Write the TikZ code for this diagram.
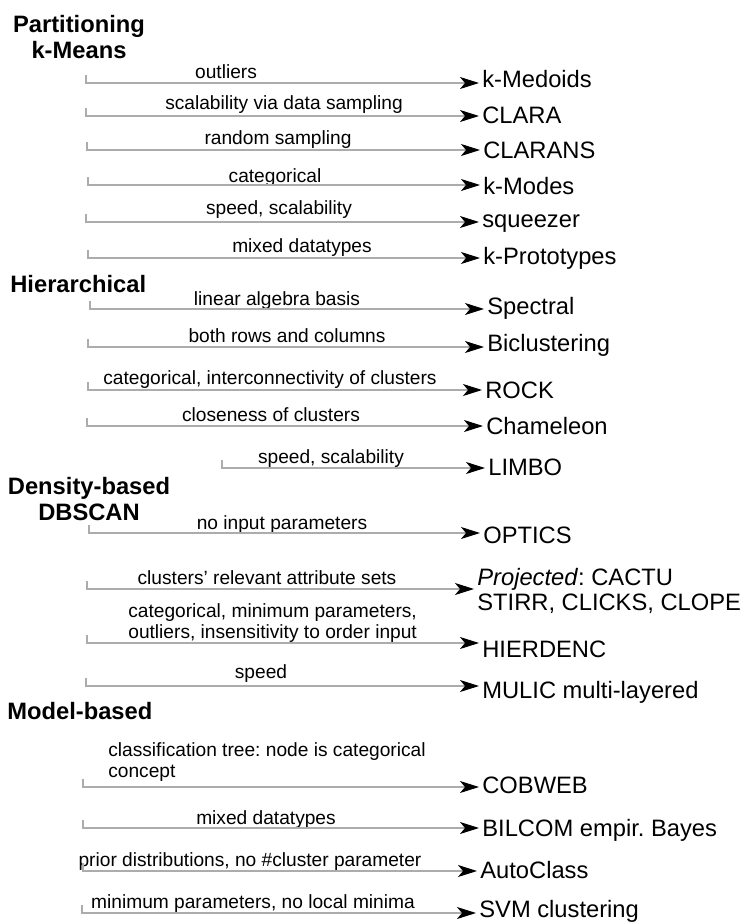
\documentclass[tikz,border=0pt]{standalone}
\usepackage{fontspec}
\setmainfont{Liberation Sans}
\usepackage{tikz}
\usetikzlibrary{arrows.meta}
\frenchspacing

\begin{document}
\begin{tikzpicture}[
    title/.style={font=\bfseries\fontsize{13.5}{14.7}\selectfont, align=center, anchor=base, inner sep=0pt},
    cond/.style={font=\fontsize{10.9}{11.6}\selectfont, anchor=base, inner sep=0pt},
    method/.style={font=\fontsize{13.5}{14.2}\selectfont, anchor=base west, inner xsep=0.06cm, inner ysep=0pt},
    link/.style={draw=gray!65, line width=0.6pt, -{Stealth[black, length=3.8mm, width=2.4mm, inset=1mm]}}
  ]
    \useasboundingbox (0,0) rectangle (15,-18.44);

    % Partitioning
    \node[title] (part) at (1.58,-1.16) {Partitioning\\k-Means};

    \coordinate (s1) at (1.72,-1.66);
    \node[cond] (c1) at (4.52,-1.56) {outliers};
    \node[method] (m1) at (9.58,-1.74) {k-Medoids};
    \draw[link] (s1) ++(0,0.16) -- (s1) -- (s1 -| m1.west);

    \coordinate (s2) at (1.72,-2.32);
    \node[cond] (c2) at (5.68,-2.18) {scalability via data sampling};
    \node[method] (m2) at (9.58,-2.46) {CLARA};
    \draw[link] (s2) ++(0,0.16) -- (s2) -- (s2 -| m2.west);

    \coordinate (s3) at (1.74,-3.00);
    \node[cond] (c3) at (5.56,-2.88) {random sampling};
    \node[method] (m3) at (9.60,-3.16) {CLARANS};
    \draw[link] (s3) ++(0,0.16) -- (s3) -- (s3 -| m3.west);

    \coordinate (s4) at (1.76,-3.70);
    \node[cond] (c4) at (5.50,-3.64) {categorical};
    \node[method] (m4) at (9.60,-3.88) {k-Modes};
    \draw[link] (s4) ++(0,0.16) -- (s4) -- (s4 -| m4.west);

    \coordinate (s5) at (1.72,-4.44);
    \node[cond] (c5) at (5.58,-4.28) {speed, scalability};
    \node[method] (m5) at (9.58,-4.54) {squeezer};
    \draw[link] (s5) ++(0,0.16) -- (s5) -- (s5 -| m5.west);

    \coordinate (s6) at (1.76,-5.16);
    \node[cond] (c6) at (6.04,-5.04) {mixed datatypes};
    \node[method] (m6) at (9.60,-5.28) {k-Prototypes};
    \draw[link] (s6) ++(0,0.16) -- (s6) -- (s6 -| m6.west);

    % Hierarchical
    \node[title, anchor=base west] (hier) at (0.20,-5.84) {Hierarchical};

    \coordinate (s7) at (1.80,-6.18);
    \node[cond] (c7) at (5.54,-6.10) {linear algebra basis};
    \node[method] (m7) at (9.68,-6.28) {Spectral};
    \draw[link] (s7) ++(0,0.16) -- (s7) -- (s7 -| m7.west);

    \coordinate (s8) at (1.76,-6.94);
    \node[cond] (c8) at (5.74,-6.84) {both rows and columns};
    \node[method] (m8) at (9.68,-7.02) {Biclustering};
    \draw[link] (s8) ++(0,0.16) -- (s8) -- (s8 -| m8.west);

    \coordinate (s9) at (1.76,-7.80);
    \node[cond] (c9) at (5.40,-7.68) {categorical, interconnectivity of clusters};
    \node[method] (m9) at (9.64,-7.96) {ROCK};
    \draw[link] (s9) ++(0,0.16) -- (s9) -- (s9 -| m9.west);

    \coordinate (s10) at (1.74,-8.52);
    \node[cond] (c10) at (5.42,-8.42) {closeness of clusters};
    \node[method] (m10) at (9.66,-8.68) {Chameleon};
    \draw[link] (s10) ++(0,0.16) -- (s10) -- (s10 -| m10.west);

    \coordinate (s11) at (4.44,-9.36);
    \node[cond] (c11) at (6.62,-9.26) {speed, scalability};
    \node[method] (m11) at (9.70,-9.50) {LIMBO};
    \draw[link] (s11) ++(0,0.16) -- (s11) -- (s11 -| m11.west);

    % Density-based
    \node[title] (dens) at (1.78,-10.40) {Density-based\\DBSCAN};

    \coordinate (s12) at (1.78,-10.66);
    \node[cond] (c12) at (5.64,-10.58) {no input parameters};
    \node[method] (m12) at (9.60,-10.86) {OPTICS};
    \draw[link] (s12) ++(0,0.16) -- (s12) -- (s12 -| m12.west);

    \coordinate (s13) at (1.74,-11.78);
    \node[cond] (c13) at (5.34,-11.68) {clusters' relevant attribute sets};
    \node[method, align=left] (m13) at (9.48,-12.20) {\textit{Projected}: CACTU\\STIRR, CLICKS, CLOPE};
    \draw[link] (s13) ++(0,0.16) -- (s13) -- (s13 -| m13.west);

    \coordinate (s14) at (1.74,-12.86);
    \node[cond, anchor=base west, align=left] (c14) at (2.56,-12.76) {categorical, minimum parameters,\\outliers, insensitivity to order input};
    \node[method] (m14) at (9.58,-13.14) {HIERDENC};
    \draw[link] (s14) ++(0,0.16) -- (s14) -- (s14 -| m14.west);

    \coordinate (s15) at (1.72,-13.72);
    \node[cond] (c15) at (5.22,-13.56) {speed};
    \node[method] (m15) at (9.58,-13.96) {MULIC multi-layered};
    \draw[link] (s15) ++(0,0.16) -- (s15) -- (s15 -| m15.west);

    % Model-based
    \node[title, anchor=base west] (model) at (0.14,-14.38) {Model-based};

    \coordinate (s16) at (1.66,-15.74);
    \node[cond, anchor=base west, align=left] (c16) at (2.16,-15.54) {classification tree: node is categorical\\concept};
    \node[method] (m16) at (9.58,-15.86) {COBWEB};
    \draw[link] (s16) ++(0,0.16) -- (s16) -- (s16 -| m16.west);

    \coordinate (s17) at (1.66,-16.56);
    \node[cond] (c17) at (5.32,-16.48) {mixed datatypes};
    \node[method] (m17) at (9.58,-16.72) {BILCOM empir. Bayes};
    \draw[link] (s17) ++(0,0.16) -- (s17) -- (s17 -| m17.west);

    \coordinate (s18) at (1.66,-17.42);
    \node[cond] (c18) at (5.00,-17.32) {prior distributions, no \#cluster parameter};
    \node[method] (m18) at (9.54,-17.56) {AutoClass};
    \draw[link] (s18) ++(0,0.16) -- (s18) -- (s18 -| m18.west);

    \coordinate (s19) at (1.64,-18.26);
    \node[cond] (c19) at (5.06,-18.16) {minimum parameters, no local minima};
    \node[method] (m19) at (9.52,-18.34) {SVM clustering};
    \draw[link] (s19) ++(0,0.16) -- (s19) -- (s19 -| m19.west);
\end{tikzpicture}
\end{document}
